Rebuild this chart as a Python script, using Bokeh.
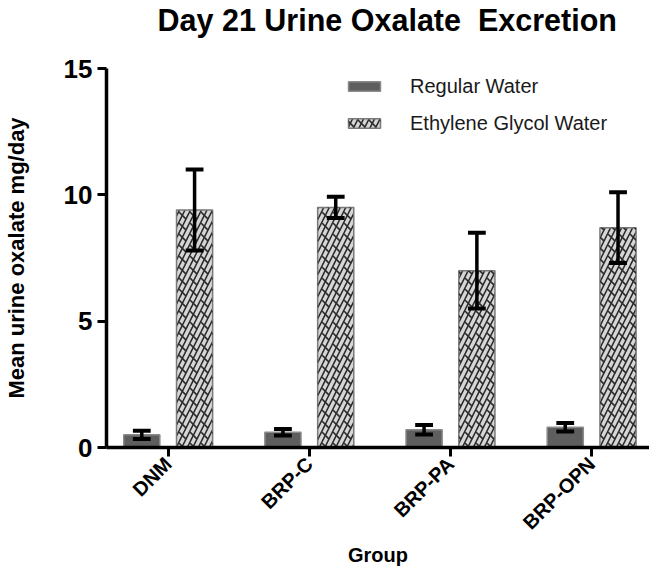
import numpy as np
from bokeh.plotting import figure
from bokeh.models import Range1d, FixedTicker, Legend, LegendItem, ColumnDataSource, Title
from bokeh.embed import file_html
from bokeh.resources import INLINE

# ---- data ----
title_text = "Day 21 Urine Oxalate\u00a0 Excretion"
groups = ["DNM", "BRP-C", "BRP-PA", "BRP-OPN"]
regular_mean = [0.5, 0.6, 0.7, 0.8]
regular_err = [0.16, 0.13, 0.19, 0.17]
eg_mean = [9.4, 9.5, 7.0, 8.7]
eg_err = [1.6, 0.42, 1.5, 1.4]
y_ticks = [0, 5, 10, 15]

FONT = "Liberation Sans"
idx = np.arange(len(groups))
off = 0.187
bw = 0.256
cap = 0.063

reg = ColumnDataSource(dict(
    x=idx - off, top=regular_mean,
    lo=np.array(regular_mean) - np.array(regular_err),
    hi=np.array(regular_mean) + np.array(regular_err)))
eg = ColumnDataSource(dict(
    x=idx + off, top=eg_mean,
    lo=np.array(eg_mean) - np.array(eg_err),
    hi=np.array(eg_mean) + np.array(eg_err)))

p = figure(width=649, height=569, x_range=Range1d(-0.437, 3.41), y_range=Range1d(0, 15),
           output_backend="svg", toolbar_location=None,
           min_border_left=0, min_border_right=0, min_border_top=0, min_border_bottom=0)

# spacer (closest to the frame) then the real title above it
p.add_layout(Title(text="\u00a0", text_font_size="10px", standoff=19), "above")
p.add_layout(Title(text=title_text, text_font=FONT, text_font_size="30.5px",
                   text_font_style="bold", text_color="black", align="left",
                   offset=51, standoff=0), "above")

r_reg = p.vbar(x="x", top="top", width=bw, bottom=0, source=reg,
               fill_color="#5e5e5e", line_color="#8a8a8a", line_width=1.5)
r_eg = p.vbar(x="x", top="top", width=bw, bottom=0, source=eg,
              fill_color="#d6d6d6", line_color="#7a7a7a", line_width=1.5,
              hatch_pattern="right_diagonal_line", hatch_color="#2a2a2a",
              hatch_scale=11, hatch_weight=1.6)
r_eg2 = p.vbar(x="x", top="top", width=bw, bottom=0, source=eg,
               fill_alpha=0, line_color=None,
               hatch_pattern="left_diagonal_dash", hatch_color="#2a2a2a",
               hatch_scale=11, hatch_weight=1.6)

for src in (reg, eg):
    p.segment(x0="x", x1="x", y0="lo", y1="hi", source=src, line_color="black", line_width=3.5)
    p.segment(x0=src.data["x"] - cap, x1=src.data["x"] + cap, y0=src.data["hi"], y1=src.data["hi"],
              line_color="black", line_width=4)
    p.segment(x0=src.data["x"] - cap, x1=src.data["x"] + cap, y0=src.data["lo"], y1=src.data["lo"],
              line_color="black", line_width=4)

p.xgrid.visible = False
p.ygrid.visible = False
p.outline_line_color = None

for ax in (p.xaxis[0], p.yaxis[0]):
    ax.axis_line_width = 3.5
    ax.axis_line_color = "black"
    ax.major_tick_line_width = 3
    ax.major_tick_line_color = "black"
    ax.major_tick_in = 0
    ax.major_tick_out = 9
    ax.minor_tick_line_color = None
    ax.major_label_text_font = FONT
    ax.major_label_text_font_style = "bold"
    ax.major_label_text_color = "black"
    ax.axis_label_text_font = FONT
    ax.axis_label_text_font_style = "bold"
    ax.axis_label_text_color = "black"

p.xaxis.ticker = FixedTicker(ticks=list(idx))
p.xaxis.major_label_overrides = {int(i): g for i, g in zip(idx, groups)}
p.xaxis.major_label_orientation = np.pi / 4
p.xaxis.major_label_text_font_size = "20px"
p.xaxis.major_label_standoff = 4
p.xaxis.axis_label = "Group"
p.xaxis.axis_label_text_font_size = "20px"
p.xaxis.axis_label_standoff = 0

p.yaxis.ticker = FixedTicker(ticks=y_ticks)
p.yaxis.major_label_text_font_size = "26px"
p.yaxis.major_label_standoff = 5
p.yaxis.axis_label = "Mean urine oxalate mg/day"
p.yaxis.axis_label_text_font_size = "22px"
p.yaxis.axis_label_standoff = 32

legend = Legend(items=[
    LegendItem(label="Regular Water", renderers=[r_reg]),
    LegendItem(label="Ethylene Glycol Water", renderers=[r_eg, r_eg2]),
], location=(238, 312))
legend.border_line_color = None
legend.background_fill_alpha = 0
legend.padding = 0
legend.margin = 0
legend.spacing = 13
legend.glyph_width = 40
legend.glyph_height = 12
legend.label_height = 24
legend.label_standoff = 26
legend.label_text_font = FONT
legend.label_text_font_size = "20px"
legend.label_text_color = "#1a1a1a"
p.add_layout(legend)

open("out.html", "w").write(file_html(p, INLINE))
